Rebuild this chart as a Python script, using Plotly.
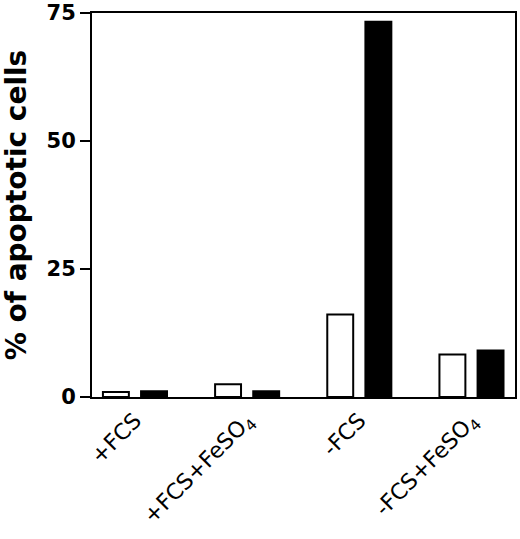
import plotly.graph_objects as go

categories = ["+FCS", "+FCS+FeSO<sub>4</sub>", "-FCS", "-FCS+FeSO<sub>4</sub>"]
white_vals = [1.0, 2.5, 16.1, 8.3]
black_vals = [1.1, 1.1, 73.3, 9.1]
y_ticks = [0, 25, 50, 75]

x = list(range(len(categories)))

fig = go.Figure()
fig.add_trace(go.Bar(x=x, y=white_vals, marker=dict(color="white", line=dict(color="black", width=2))))
fig.add_trace(go.Bar(x=x, y=black_vals, marker=dict(color="black", line=dict(color="black", width=2))))

fig.update_layout(
    width=520, height=539,
    margin=dict(l=92, r=5, t=13, b=142),
    plot_bgcolor="white", paper_bgcolor="white",
    barmode="group", bargap=0.32, bargroupgap=0.32,
    showlegend=False,
    font=dict(family="DejaVu Sans", color="black"),
)
fig.update_xaxes(
    range=[-0.383, 3.388], tickmode="array", tickvals=x, ticktext=categories,
    tickangle=-45, ticks="", showline=True, linecolor="black", linewidth=2,
    mirror=True, showgrid=False, zeroline=False, automargin=False,
    ticklabeloverflow="allow",
    tickfont=dict(size=22, family="DejaVu Sans"),
)
fig.update_yaxes(
    range=[0, 75], tickvals=y_ticks, ticks="outside", ticklen=10, tickwidth=2,
    tickcolor="black", showline=True, linecolor="black", linewidth=2, mirror=True,
    showgrid=False, zeroline=False, automargin=False,
    ticklabeloverflow="allow",
    tickfont=dict(size=21, family="DejaVu Sans", weight="bold"),
    title=dict(text="<b>% of apoptotic cells</b>", font=dict(size=28, family="DejaVu Sans"), standoff=12),
)
# remove the browser's default 8px body margin so the figure fills the window exactly
fig.write_html("out.html", config={"displayModeBar": False},
               post_script="document.body.style.margin='0';")
